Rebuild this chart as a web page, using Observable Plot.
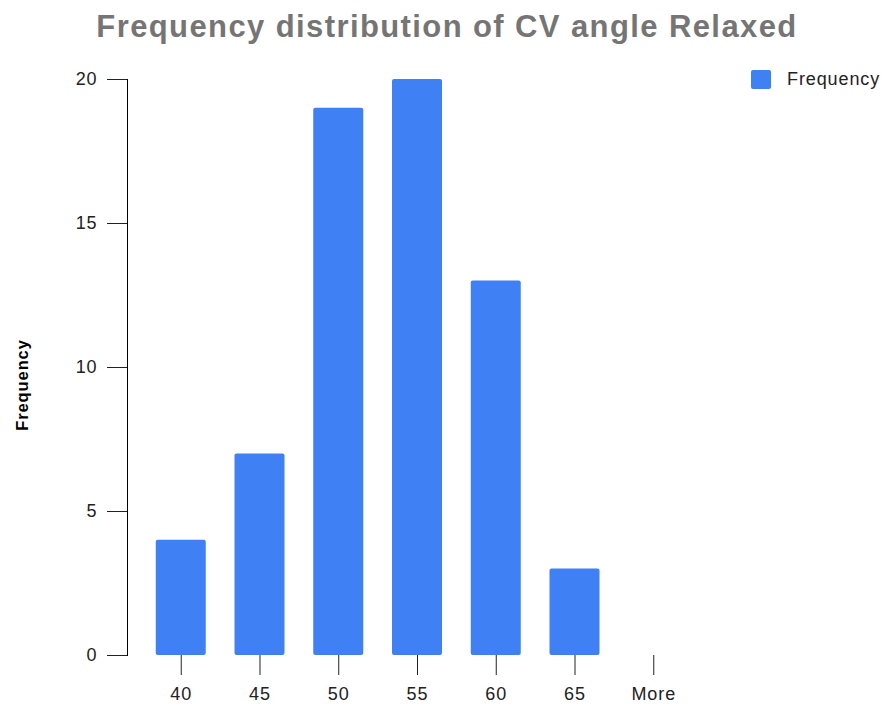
<!DOCTYPE html>
<html><head><meta charset="utf-8">
<script src="https://cdn.jsdelivr.net/npm/d3@7"></script>
<script src="https://cdn.jsdelivr.net/npm/@observablehq/plot@0.6"></script>
<style>
body{margin:0;background:#fff;font-family:"Liberation Sans",Arial,sans-serif;}
#wrap{position:relative;width:886px;height:705px;}
#title{position:absolute;left:0;top:9px;width:894px;text-align:center;font-weight:bold;font-size:31px;letter-spacing:1.4px;color:#757575;}
#legend{position:absolute;left:751px;top:69px;display:flex;align-items:center;font-size:18px;letter-spacing:0.9px;color:#222;}
#legend span.sw{display:inline-block;width:20px;height:19px;background:#4080f5;border-radius:2px;margin-right:16px;}
#chart{position:absolute;left:0;top:50px;}
#chart svg text{letter-spacing:0.9px;}
</style></head>
<body>
<div id="wrap">
<div id="title">Frequency distribution of CV angle Relaxed</div>
<div id="chart"></div>
<div id="legend"><span class="sw"></span>Frequency</div>
</div>
<script>
const bins = ["40","45","50","55","60","65","More"];
const frequency = [4, 7, 19, 20, 13, 3, 0];
const yTicks = [0, 5, 10, 15, 20];
const seriesName = "Frequency";

const data = bins.map((b, i) => ({bin: b, value: frequency[i]}));

const plot = Plot.plot({
  width: 886,
  height: 655,
  marginLeft: 127,
  marginRight: 179,
  marginTop: 29,
  marginBottom: 50,
  style: {fontFamily: "Liberation Sans, Arial, sans-serif", fontSize: "18px", color: "#222"},
  x: {domain: bins, padding: 0.365, round: false, label: null},
  y: {domain: [0, 20], label: null},
  marks: [
    Plot.barY(data, {x: "bin", y: "value", fill: "#4080f5", rx: 2}),
    Plot.axisX({tickSize: 20, tickPadding: 12, fontSize: 18, label: null}),
    Plot.axisY({ticks: yTicks, tickSize: 20, tickPadding: 10, fontSize: 18, label: null}),
    Plot.frame({anchor: "left", stroke: "#000"})
  ]
});
document.getElementById("chart").appendChild(plot);

// y-axis title
const svg = d3.select(plot);
svg.append("text")
  .attr("transform", `translate(28, ${(plot.scale("y").apply(10) + 18)}) rotate(-90)`)
  .attr("text-anchor", "middle")
  .attr("font-weight", "bold")
  .attr("font-size", 16.5)
  .attr("fill", "#000")
  .text(seriesName);
</script>
</body></html>
